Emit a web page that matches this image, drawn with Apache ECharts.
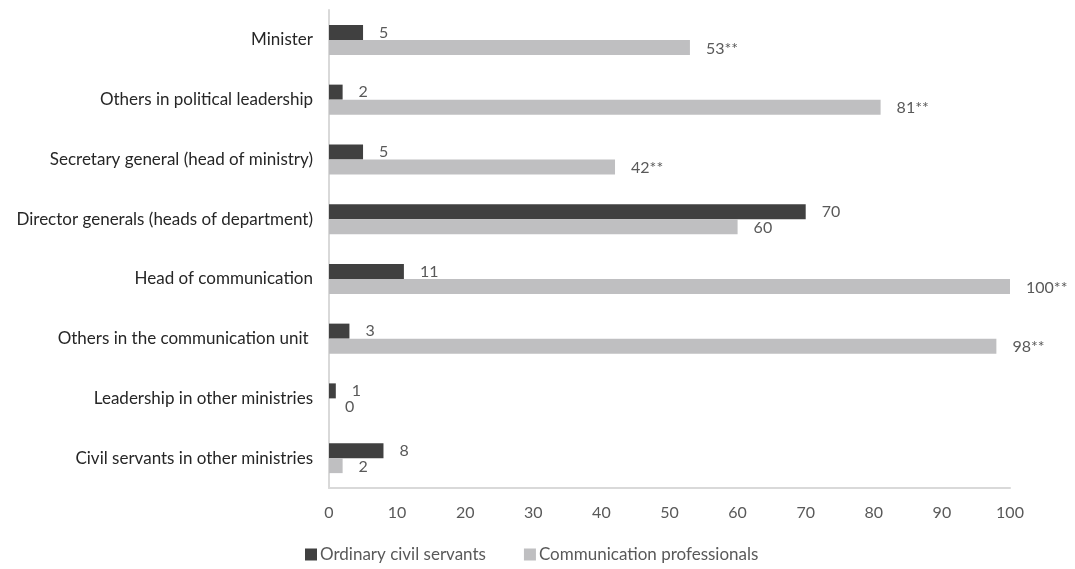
<!DOCTYPE html>
<html>
<head>
<meta charset="utf-8">
<script src="https://cdn.jsdelivr.net/npm/echarts@6/dist/echarts.min.js"></script>
<style>
  html, body { margin: 0; padding: 0; background: #fff; }
  #main { width: 1075px; height: 569px; }
</style>
</head>
<body>
<div id="main"></div>
<script>
var categories = [
  'Minister',
  'Others in political leadership',
  'Secretary general (head of ministry)',
  'Director generals (heads of department)',
  'Head of communication',
  'Others in the communication unit ',
  'Leadership in other ministries',
  'Civil servants in other ministries'
];
var ordinaryValues = [5, 2, 5, 70, 11, 3, 1, 8];
var commValues = [53, 81, 42, 60, 100, 98, 0, 2];
// significance markers shown after the professionals' values
var commMarks = ['**', '**', '**', '', '**', '**', '', ''];
var xTicks = [0, 10, 20, 30, 40, 50, 60, 70, 80, 90, 100];

var font = 'Lato';
var myChart = echarts.init(document.getElementById('main'));

var option = {
  animation: false,
  textStyle: { fontFamily: font },
  grid: { left: 329, right: 65, top: 10, bottom: 81 },
  legend: {
    top: 541,
    left: 300,
    icon: 'rect',
    itemWidth: 12,
    itemHeight: 12,
    itemGap: 38,
    textStyle: { color: '#595959', fontSize: 17, fontFamily: font, padding: [0, 0, 0, -2] },
    data: ['Ordinary civil servants', 'Communication professionals']
  },
  xAxis: {
    type: 'value',
    min: xTicks[0],
    max: xTicks[xTicks.length - 1],
    interval: 10,
    axisLine: { show: true, lineStyle: { color: '#d9d9d9', width: 2 } },
    axisTick: { show: false },
    splitLine: { show: false },
    axisLabel: { color: '#595959', fontSize: 16, margin: 17, fontFamily: font }
  },
  yAxis: {
    type: 'category',
    inverse: true,
    data: categories,
    axisLine: { show: true, lineStyle: { color: '#d9d9d9', width: 2 } },
    axisTick: { show: false },
    axisLabel: { color: '#262626', fontSize: 17, margin: 16, fontFamily: font }
  },
  series: [
    {
      name: 'Ordinary civil servants',
      type: 'bar',
      data: ordinaryValues,
      barWidth: 15,
      barGap: '0%',
      itemStyle: { color: '#404040' },
      label: {
        show: true,
        position: 'right',
        distance: 16,
        color: '#595959',
        fontSize: 16,
        fontFamily: font
      }
    },
    {
      name: 'Communication professionals',
      type: 'bar',
      data: commValues,
      barWidth: 15,
      barGap: '0%',
      itemStyle: { color: '#bfbfc1' },
      label: {
        show: true,
        position: 'right',
        distance: 16,
        offset: [0, 1],
        color: '#595959',
        fontSize: 16,
        fontFamily: font,
        formatter: function (p) { return p.value + commMarks[p.dataIndex]; }
      }
    }
  ]
};

myChart.setOption(option);
</script>
</body>
</html>
